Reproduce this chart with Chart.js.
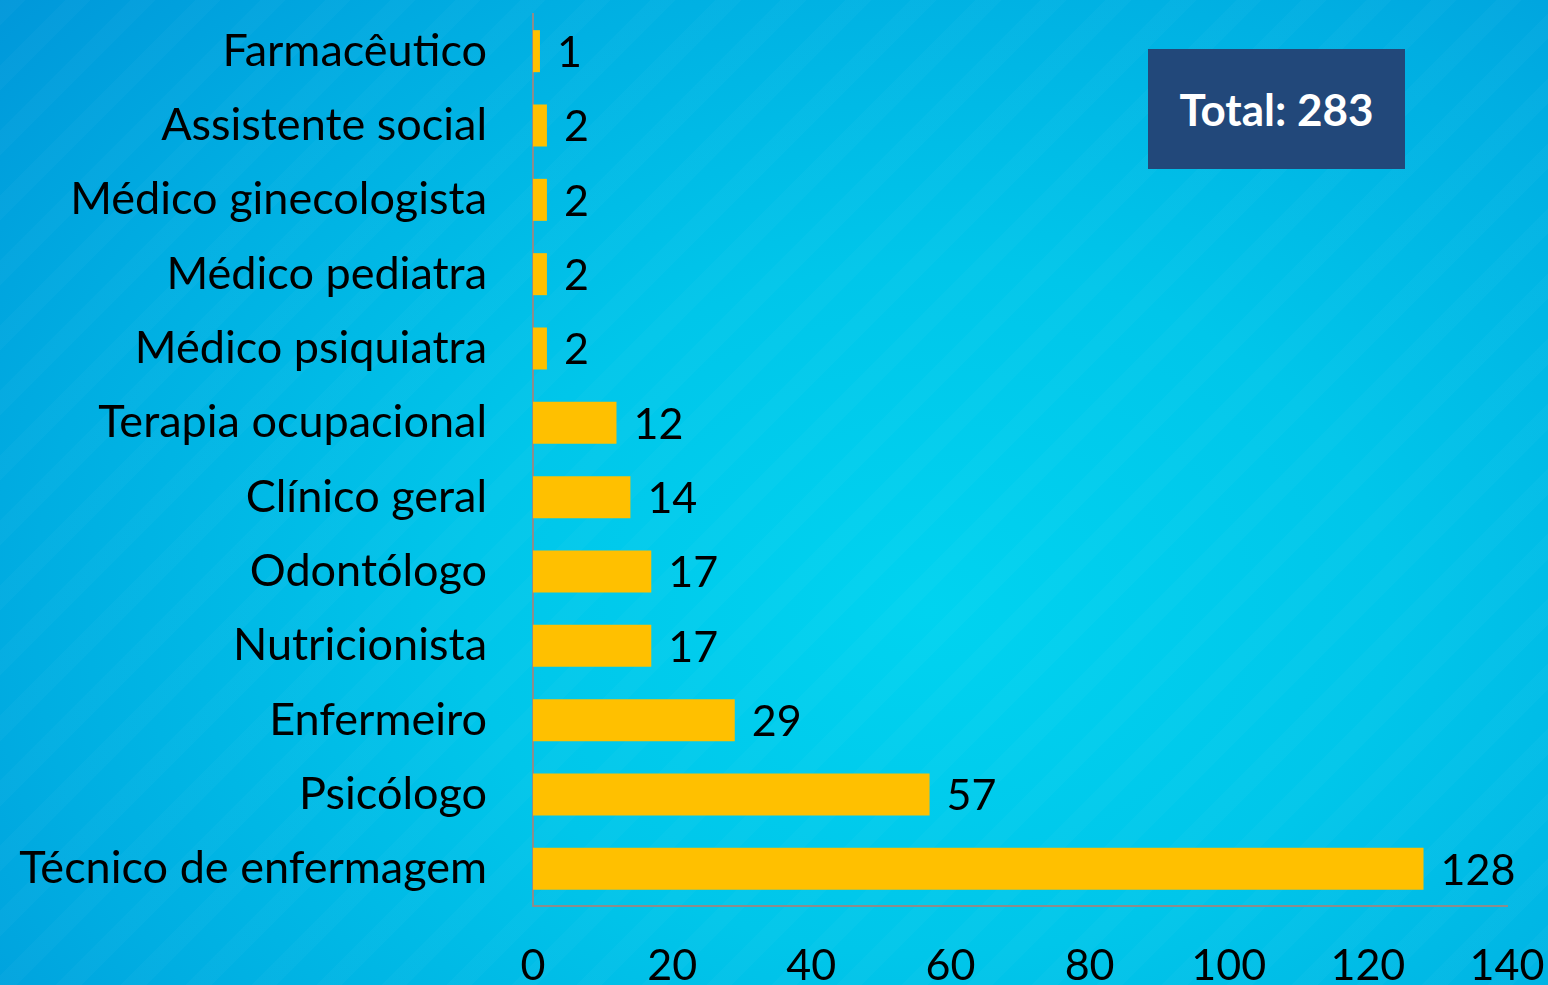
<!DOCTYPE html>
<html>
<head>
<meta charset="utf-8">
<script src="https://cdn.jsdelivr.net/npm/chart.js@4"></script>
<style>
  html, body { margin: 0; padding: 0; }
  body {
    width: 1548px; height: 985px; overflow: hidden; position: relative;
    background:
      repeating-linear-gradient(135deg, rgba(255,255,255,0.025) 0px, rgba(255,255,255,0.025) 18px, rgba(255,255,255,0) 18px, rgba(255,255,255,0) 46px),
      radial-gradient(ellipse 85% 100% at 60% 62%, #00d3f0 0%, #00c6ea 35%, #00aee2 68%, #0092d8 100%);
  }
  #wrap { position: absolute; left: 0; top: 0; width: 1548px; height: 985px; }
  #total {
    position: absolute; left: 1148px; top: 49px; width: 257px; height: 120px;
    background: #22487a; color: #fff;
    font: bold 44px Lato, "Open Sans", sans-serif;
    display: flex; align-items: center; justify-content: center;
  }
</style>
</head>
<body>
<div id="wrap"><canvas id="chart" width="1548" height="985"></canvas></div>
<div id="total">Total: 283</div>
<script>
// categories, top to bottom
const categories = [
  "Farmacêutico", "Assistente social", "Médico ginecologista", "Médico pediatra",
  "Médico psiquiatra", "Terapia ocupacional", "Clínico geral", "Odontólogo",
  "Nutricionista", "Enfermeiro", "Psicólogo", "Técnico de enfermagem"
];
const counts = [1, 2, 2, 2, 2, 12, 14, 17, 17, 29, 57, 128];
const xTicks = [0, 20, 40, 60, 80, 100, 120, 140];

const FONT = "Lato, 'Open Sans', sans-serif";

// value labels at the end of each bar
const barValueLabels = {
  id: "barValueLabels",
  afterDatasetsDraw(chart) {
    const ctx = chart.ctx;
    const meta = chart.getDatasetMeta(0);
    ctx.save();
    ctx.font = "43px " + FONT;
    ctx.fillStyle = "#000";
    ctx.textAlign = "left";
    ctx.textBaseline = "middle";
    meta.data.forEach((bar, i) => {
      ctx.fillText(String(counts[i]), bar.x + 17, bar.y + 2);
    });
    ctx.restore();
  }
};

// keep the plot area where the reference has it
function noPad(scale) {
  scale.paddingTop = 0; scale.paddingBottom = 0;
  scale.paddingLeft = 0; scale.paddingRight = 0;
}

const ctx = document.getElementById("chart").getContext("2d");
new Chart(ctx, {
  type: "bar",
  data: {
    labels: categories,
    datasets: [{
      data: counts,
      backgroundColor: "#ffc000",
      borderWidth: 0,
      barPercentage: 0.565,
      categoryPercentage: 1
    }]
  },
  options: {
    indexAxis: "y",
    responsive: false,
    animation: false,
    layout: { padding: { top: 14, right: 41, left: 0, bottom: 0 } },
    plugins: { legend: { display: false }, tooltip: { enabled: false } },
    scales: {
      x: {
        min: 0, max: 140,
        afterBuildTicks: scale => { scale.ticks = xTicks.map(v => ({ value: v })); },
        afterFit: scale => { scale.height = 79; noPad(scale); },
        grid: { display: false, drawTicks: false },
        border: { color: "#8c8c8c", width: 2 },
        ticks: { color: "#000", font: { size: 43, family: FONT }, padding: 34, maxRotation: 0, autoSkip: false }
      },
      y: {
        afterFit: scale => { scale.width = 533; noPad(scale); },
        grid: { display: false, drawTicks: false },
        border: { color: "#8c8c8c", width: 2 },
        ticks: { color: "#000", font: { size: 45, family: FONT }, padding: 46, autoSkip: false }
      }
    }
  },
  plugins: [barValueLabels]
});
</script>
</body>
</html>
